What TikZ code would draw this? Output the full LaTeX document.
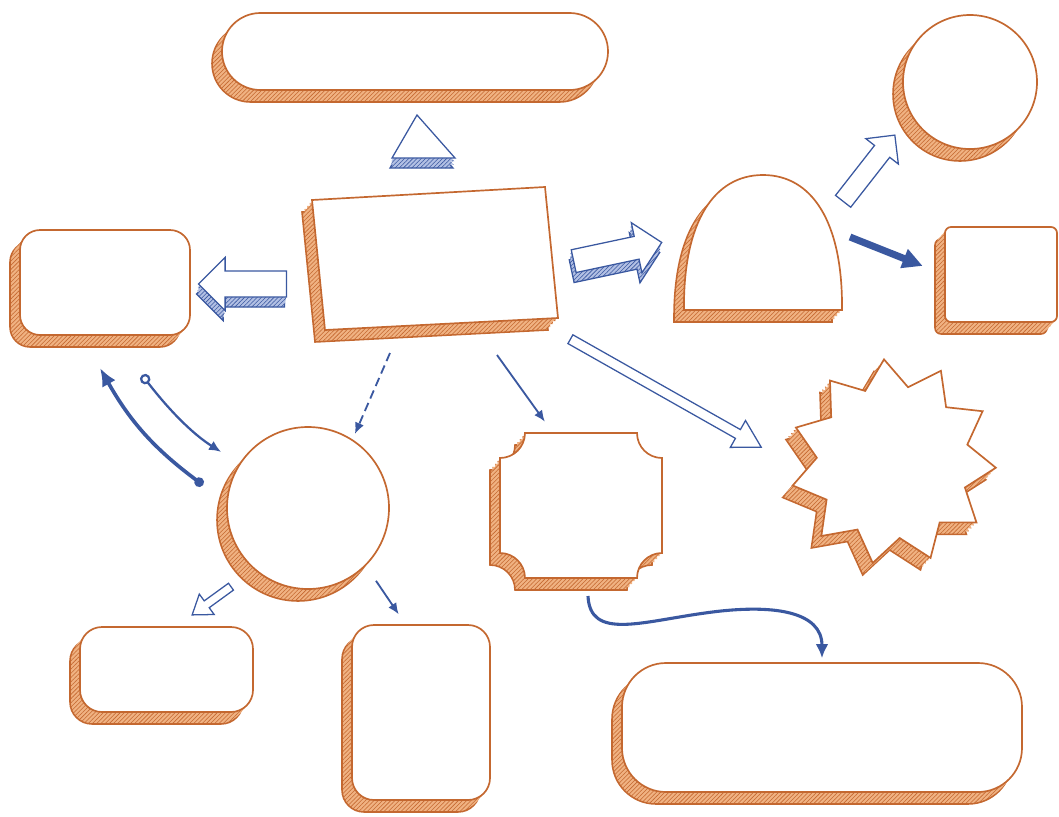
\documentclass[tikz,border=0pt]{standalone}
\usetikzlibrary{shapes.geometric, shapes.arrows, shadows, patterns, arrows.meta, calc}
\definecolor{rim}{RGB}{196,104,48}
\definecolor{hatch}{RGB}{240,178,130}
\definecolor{ink}{RGB}{58,88,160}
\definecolor{inkpale}{RGB}{178,192,228}
\tikzset{
  slab/.style n args={3}{general shadow={shadow xshift=#1, shadow yshift=#2, fill=hatch},
    general shadow={shadow xshift=#1, shadow yshift=#2, pattern=north east lines, pattern color=rim, #3}},
  solid3d/.style={draw=rim, line width=1.2pt, fill=white,
    slab={-2.5mm}{-3mm}{draw=rim, line width=1.1pt}, slab={-1.9mm}{-2.25mm}{},
    slab={-1.25mm}{-1.5mm}{}, slab={-0.6mm}{-0.75mm}{}},
  box3d/.style={solid3d, rectangle, inner sep=0pt, rounded corners=#1},
  ball3d/.style={solid3d, circle, inner sep=0pt, minimum size=#1},
  blueslab/.style n args={3}{general shadow={shadow xshift=#1, shadow yshift=#2, fill=inkpale},
    general shadow={shadow xshift=#1, shadow yshift=#2, pattern=north east lines, pattern color=ink, #3}},
  blue3d/.style={draw=ink, line width=0.9pt, fill=white,
    blueslab={-0.5mm}{-2.5mm}{draw=ink, line width=0.9pt}, blueslab={-0.33mm}{-1.67mm}{},
    blueslab={-0.17mm}{-0.83mm}{}},
  fatarrow/.style={blue3d, single arrow, single arrow head indent=0pt},
  openarrow/.style={single arrow, draw=ink, line width=0.9pt, fill=white},
  thinarrow/.style={draw=ink, line width=1.3pt, -{Latex[length=2.8mm, width=2.4mm]}},
}

\begin{document}
\begin{tikzpicture}[x=0.25mm, y=-0.25mm]
\useasboundingbox (0,0) rectangle (1059,816);
% shapes
\node[box3d=9.6mm, minimum width=96.5mm, minimum height=19.25mm] (toppill) at (415,51.5) {};
\node[box3d=5mm, minimum width=42.5mm, minimum height=26.25mm] (lbox) at (105,282.5) {};
\draw[solid3d] (312,200) -- (545,187) -- (558,318) -- (325,330) -- cycle;
\draw[solid3d] (684,310) -- (842,310) .. controls (843,222) and (812,175) .. (763,175)
  .. controls (714,175) and (683,222) .. (684,310) -- cycle;
\node[ball3d=33.5mm] (tcirc) at (970,82) {};
\node[box3d=1.5mm, minimum width=28mm, minimum height=23.75mm] (rrect) at (1001,274.5) {};
\node[solid3d, star, star points=11, star point ratio=1.35, minimum size=51.5mm, inner sep=0pt, rotate=5] (star) at (893,462) {};
\draw[solid3d] (525,433) -- (637,433) .. controls (637,446.8) and (648.2,458) .. (662,458)
  -- (662,553) .. controls (648.2,553) and (637,564.2) .. (637,578)
  -- (525,578) .. controls (525,564.2) and (513.8,553) .. (500,553)
  -- (500,458) .. controls (513.8,458) and (525,446.8) .. (525,433) -- cycle;
\node[ball3d=40.5mm] (lcirc) at (308,508) {};
\node[box3d=5.5mm, minimum width=43.25mm, minimum height=21.25mm] (llbox) at (166.5,669.5) {};
\node[box3d=5.5mm, minimum width=34.5mm, minimum height=43.75mm] (sqbox) at (421,712.5) {};
\node[box3d=11mm, minimum width=100mm, minimum height=32.25mm] (bpill) at (822,727.5) {};

% block arrows
\draw[blue3d] (417,115) -- (455,158) -- (392,158) -- cycle;
\node[fatarrow, rotate=180, minimum height=22mm, minimum width=13mm, inner sep=3.1mm, single arrow head extend=3.4mm] (leftarr) at (249,284) {};
\node[fatarrow, rotate=12, minimum height=22.5mm, minimum width=12.5mm, inner sep=2.75mm, single arrow head extend=3.5mm] (rightarr) at (612,253) {};
\node[openarrow, rotate=52, minimum height=21mm, minimum width=10mm, inner sep=2.25mm, single arrow head extend=2.75mm] (uparr) at (866,172) {};
\node[openarrow, rotate=-29.5, minimum height=54.8mm, minimum width=7.5mm, inner sep=1.1mm, single arrow head extend=2.6mm, single arrow tip angle=60] (longarr) at (662,391) {};
\node[openarrow, rotate=216, minimum height=12mm, minimum width=6mm, inner sep=0.9mm, single arrow head extend=2.1mm, single arrow tip angle=70] (dlarr) at (214,599) {};

% line arrows
\coordinate (main-o1) at (390,353);
\coordinate (main-o2) at (497,355);
\coordinate (dome-e) at (850,237);
\coordinate (plq-n) at (553,433);
\coordinate (plq-s) at (588,596);
\coordinate (lbox-o) at (142,375);
\coordinate (lbox-i) at (100,368);
\coordinate (lcirc-o) at (203,485);
\draw[thinarrow, shorten >=1.5mm, dash pattern=on 2.2mm off 1.2mm] (main-o1) -- (lcirc.57);
\draw[thinarrow, shorten >=3.5mm] (main-o2) -- (plq-n);
\draw[ink, line width=5pt, -{Triangle[length=5mm, width=4.8mm]}, shorten >=5.8mm] (dome-e) -- (rrect.west);
\draw[ink, line width=2.2pt, -{Latex[length=3.5mm, width=3.2mm]}, shorten >=1mm] (plq-s)
  .. controls (590,640) and (640,622) .. (705,613) .. controls (775,603) and (822,612) .. (bpill.north);
\draw[ink, line width=2.6pt, {Circle[length=2.4mm]}-{Latex[length=4.5mm, width=3.8mm]}] (lcirc-o) to[bend left=12] (lbox-i);
\draw[ink, line width=1.6pt, {Circle[open, length=2.6mm, width=2.6mm]}-{Latex[length=3mm, width=2.6mm]}, shorten >=5.4mm] (lbox-o) to[bend right=10] (lcirc.147);
\draw[thinarrow, shorten <=4.5mm, shorten >=3mm] (lcirc.-45) -- (sqbox.100);
\end{tikzpicture}
\end{document}
